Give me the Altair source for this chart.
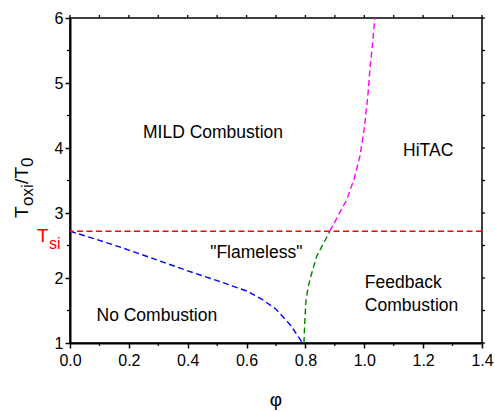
import altair as alt
import pandas as pd

# ---- data ----
blue_phi = [0.0, 0.1, 0.2, 0.3, 0.4, 0.5, 0.6, 0.65, 0.7, 0.75, 0.79]
blue_val = [2.72, 2.58, 2.43, 2.27, 2.11, 1.96, 1.80, 1.68, 1.52, 1.27, 1.0]

green_phi = [0.795, 0.798, 0.802, 0.81, 0.82, 0.838, 0.861, 0.883]
green_val = [1.0, 1.35, 1.66, 1.88, 2.05, 2.33, 2.53, 2.72]

mag_phi = [0.883, 0.91, 0.94, 0.965, 0.985, 1.0, 1.012, 1.02, 1.028, 1.036]
mag_val = [2.72, 2.95, 3.20, 3.52, 3.87, 4.3, 4.8, 5.25, 5.6, 6.0]

TSI = 2.72

x_major = [0.0, 0.2, 0.4, 0.6, 0.8, 1.0, 1.2, 1.4]
x_minor = [0.1, 0.3, 0.5, 0.7, 0.9, 1.1, 1.3]
y_major = [1, 2, 3, 4, 5, 6]
y_minor = [1.5, 2.5, 3.5, 4.5, 5.5]

center_labels = ["MILD Combustion", "HiTAC", "\"Flameless\"", "No Combustion"]
center_phi = [0.486, 1.217, 0.633, 0.295]
center_val = [4.23, 3.95, 2.385, 1.42]

left_labels = ["Feedback", "Combustion"]
left_phi = [1.002, 1.002]
left_val = [1.925, 1.565]

W, H = 412, 325
FONT = "Liberation Sans"

xs = alt.Scale(domain=[0, 1.4], nice=False, zero=False)
ys = alt.Scale(domain=[1, 6], nice=False, zero=False)
XAX = alt.Axis(values=x_major, format=".1f", title=None, grid=False,
               labelFlush=False, labelPadding=4)
YAX = alt.Axis(values=y_major, format="d", title=None, grid=False,
               labelFlush=False, labelPadding=2)


def X(f):
    return alt.X(f, scale=xs, axis=XAX)


def Y(f):
    return alt.Y(f, scale=ys, axis=YAX)


curves = pd.DataFrame(
    {"phi": blue_phi + green_phi + mag_phi,
     "val": blue_val + green_val + mag_val,
     "curve": ["blue"] * len(blue_phi) + ["green"] * len(green_phi) + ["magenta"] * len(mag_phi),
     "order": list(range(len(blue_phi))) + list(range(len(green_phi))) + list(range(len(mag_phi)))}
)

lines = alt.Chart(curves).mark_line(strokeDash=[6, 3.5], strokeWidth=1.4).encode(
    x=X("phi:Q"),
    y=Y("val:Q"),
    color=alt.Color("curve:N", legend=None,
                    scale=alt.Scale(domain=["blue", "green", "magenta"],
                                    range=["#0000ff", "#008000", "#ff00ff"])),
    detail="curve:N",
    order="order:Q",
)

tsi_rule = alt.Chart(pd.DataFrame({"v": [TSI]})).mark_rule(
    color="#ff0000", strokeDash=[6, 3.5], strokeWidth=1.4
).encode(y=Y("v:Q"))

# minor / mirror ticks
xmin_df = pd.DataFrame({"t": x_minor})
xall_df = pd.DataFrame({"t": x_major + x_minor})
ymin_df = pd.DataFrame({"t": y_minor})
yall_df = pd.DataFrame({"t": y_major + y_minor})

tick_style = dict(color="black", strokeWidth=1.3)
bottom_minor = alt.Chart(xmin_df).mark_rule(**tick_style).encode(
    x=X("t:Q"), y=alt.value(H), y2=alt.value(H + 3))
top_ticks = alt.Chart(xall_df).mark_rule(**tick_style).encode(
    x=X("t:Q"), y=alt.value(0), y2=alt.value(-3))
left_minor = alt.Chart(ymin_df).mark_rule(**tick_style).encode(
    y=Y("t:Q"), x=alt.value(0), x2=alt.value(-3))
right_ticks = alt.Chart(yall_df).mark_rule(**tick_style).encode(
    y=Y("t:Q"), x=alt.value(W), x2=alt.value(W + 3))

# annotations
cdf = pd.DataFrame({"phi": center_phi, "val": center_val, "lab": center_labels})
ldf = pd.DataFrame({"phi": left_phi, "val": left_val, "lab": left_labels})
center_text = alt.Chart(cdf).mark_text(
    font=FONT, fontSize=17.5, color="black", align="center", baseline="middle"
).encode(x=X("phi:Q"), y=Y("val:Q"), text="lab:N")
left_text = alt.Chart(ldf).mark_text(
    font=FONT, fontSize=17.5, color="black", align="left", baseline="middle"
).encode(x=X("phi:Q"), y=Y("val:Q"), text="lab:N")


def label(txt, x, y, size, color="black", angle=0, align="left", baseline="alphabetic"):
    kw = dict(font=FONT, fontSize=size, color=color, align=align, baseline=baseline, text=txt)
    if angle:
        kw["angle"] = angle
    return alt.Chart(pd.DataFrame({"a": [0]})).mark_text(**kw).encode(
        x=alt.value(x), y=alt.value(y))


title_parts = [
    label("T", -42, 200, 19, angle=270),
    label("oxi", -37, 188, 17, angle=270),
    label("/", -42, 166, 19, angle=270),
    label("T", -42, 160.5, 19, angle=270),
    label("0", -37, 149, 17, angle=270),
    label("T", -33, 224, 19, color="#ff0000"),
    label("si", -21, 231, 16, color="#ff0000"),
    label("φ", W / 2, 382, 19, align="center", baseline="middle"),
]

chart = alt.layer(
    lines, tsi_rule, bottom_minor, top_ticks, left_minor, right_ticks,
    center_text, left_text, *title_parts
).properties(
    width=W, height=H,
    autosize=alt.AutoSizeParams(type="none"),
    padding={"left": 70, "top": 18, "right": 13, "bottom": 69},
    background="white",
).configure_view(
    stroke="black", strokeWidth=1.5
).configure_axis(
    labelFont=FONT, labelFontSize=16, labelColor="black",
    domainColor="black", domainWidth=2, tickColor="black", tickWidth=1.5,
    tickSize=5, grid=False,
)

chart.save("out.html", embed_options={"renderer": "svg", "actions": False})
